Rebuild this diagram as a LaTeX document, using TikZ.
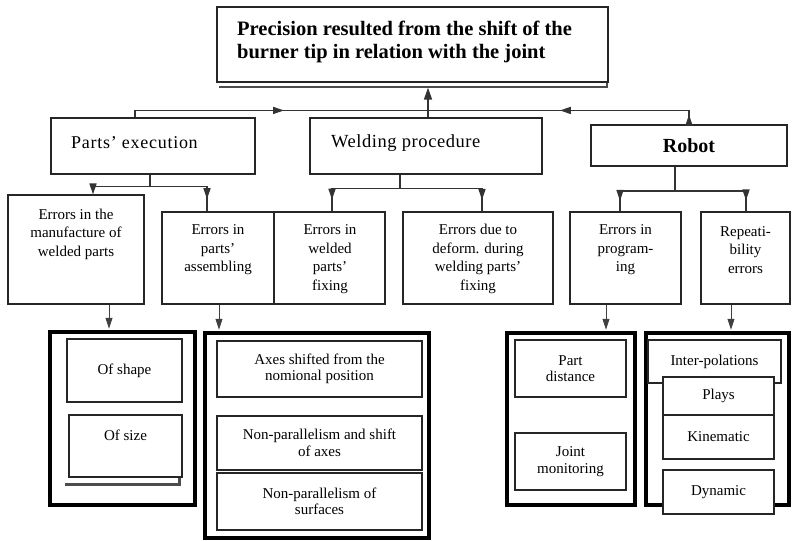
\documentclass[tikz,border=0pt]{standalone}
\usepackage{fontspec}
\setmainfont{Liberation Serif}
\usetikzlibrary{arrows.meta,decorations.markings}
\begin{document}
\begin{tikzpicture}[x=1pt,y=-1pt,
  box/.style={draw=black!85,line width=1.1pt,fill=white,inner sep=0pt,align=center,font=\fontsize{15}{16.5}\selectfont},
  frame/.style={draw=black,line width=3.5pt,inner sep=0pt},
  txt/.style={inner sep=0pt,align=center,font=\fontsize{15}{18.5}\selectfont},
  link/.style={draw=black!80,line width=1.6pt},
  thin link/.style={draw=black!75,line width=1pt},
  tip/.style={-{Triangle[length=11pt,width=7pt]}},
  midtip/.style={postaction={decorate,decoration={markings,mark=at position #1 with {\arrow{Triangle[length=11pt,width=7pt]}}}}},
  shadowline/.style={draw=black!70,line width=2.2pt}]
\useasboundingbox (0,0) rectangle (801,541);

% ---- top ----
\node[box,line width=1.3pt,minimum width=391pt,minimum height=75pt] (top) at (412.5,44.5) {};
\node[txt,align=left,anchor=west,font=\bfseries\fontsize{20.5}{23}\selectfont] (ttop) at (237,41.5)
  {Precision resulted from the shift of the\\burner tip in relation with the joint};
\draw[shadowline] ([xshift=3pt,yshift=-4pt]top.south west) -- ([xshift=-2pt,yshift=-4pt]top.south east) -- ([xshift=-2pt]top.south east);

% ---- level 1 ----
\node[box,minimum width=204pt,minimum height=56pt] (parts) at (153,146) {};
\node[txt,anchor=west,font=\fontsize{18}{20}\selectfont\addfontfeature{LetterSpace=4}] (tparts) at (71,143) {Parts' execution};
\node[box,minimum width=232pt,minimum height=56pt] (weld) at (426,146) {};
\node[txt,anchor=west,font=\fontsize{18.5}{20}\selectfont\addfontfeature{LetterSpace=3}] (tweld) at (331,143) {Welding procedure};
\node[box,line width=1.5pt,minimum width=196pt,minimum height=41pt,font=\bfseries\fontsize{20}{22}\selectfont] (robot) at (689,145.5) {Robot};

% ---- level 2 ----
\node[box,minimum width=136pt,minimum height=109pt] (manuf) at (76,249.5) {};
\node[txt] (tmanuf) at (76,234) {Errors in the\\manufacture of\\welded parts};
\node[box,minimum width=112pt,minimum height=92pt] (assem) at (218,258) {};
\node[txt] (tassem) at (218,250) {Errors in\\parts'\\assembling};
\node[box,minimum width=111pt,minimum height=92pt] (fixing) at (329.5,258) {};
\node[txt] (tfixing) at (330,259) {Errors in\\welded\\parts'\\fixing};
\node[box,minimum width=150pt,minimum height=92pt] (deform) at (478,258) {};
\node[txt] (tdeform) at (478,259) {Errors due to\\deform. during\\welding parts'\\fixing};
\node[box,minimum width=111pt,minimum height=92pt] (prog) at (625.5,258) {};
\node[txt] (tprog) at (625.5,250) {Errors in\\program-\\ing};
\node[box,minimum width=89pt,minimum height=92pt] (rep) at (745.5,258) {};
\node[txt] (trep) at (745.5,250) {Repeati-\\bility\\errors};

% ---- level 3 groups ----
\node[frame,minimum width=145pt,minimum height=173pt] (g1) at (122.5,418.5) {};
\node[box,minimum width=115pt,minimum height=63pt] (shape) at (124.5,370.5) {Of shape};
\node[box,minimum width=113pt,minimum height=62pt] (size) at (125.5,446) {};
\node[txt] (tsize) at (125.5,435) {Of size};
\draw[shadowline] ([xshift=-3pt,yshift=-7pt]size.south west) -- ([xshift=-3pt,yshift=-7pt]size.south east) -- ([xshift=-3pt]size.south east);

\node[frame,minimum width=224pt,minimum height=205pt] (g2) at (317,435.5) {};
\node[box,minimum width=205pt,minimum height=56pt] (axes) at (319.5,369) {Axes shifted from the\\nomional position};
\node[box,minimum width=205pt,minimum height=54pt] (nps) at (319.5,443) {Non-parallelism and shift\\of axes};
\node[box,minimum width=205pt,minimum height=57pt] (npsurf) at (319.5,501.5) {Non-parallelism of\\surfaces};

\node[frame,minimum width=128pt,minimum height=172pt] (g3) at (571,419) {};
\node[box,minimum width=111pt,minimum height=57pt] (pdist) at (570.5,368.5) {Part\\distance};
\node[box,minimum width=111pt,minimum height=57pt] (joint) at (570.5,461.5) {Joint\\monitoring};

\node[frame,minimum width=143pt,minimum height=172pt] (g4) at (717.5,419) {};
\node[box,minimum width=133pt,minimum height=43pt] (interp) at (714.5,361.5) {Inter-polations};
\node[box,minimum width=111pt,minimum height=38pt] (plays) at (718.5,396) {Plays};
\node[box,minimum width=111pt,minimum height=44pt] (kin) at (718.5,437) {Kinematic};
\node[box,minimum width=111pt,minimum height=44pt] (dyn) at (718.5,492) {Dynamic};

% ---- connectors up ----
\coordinate (jn) at ([xshift=2pt,yshift=7pt]weld.north);
\draw[link,-{Triangle[length=12pt,width=8pt]},shorten >=5pt] ([xshift=2pt]weld.north) -- ([xshift=2pt]weld.north |- top.south);
\draw[link,midtip=0.52] ([xshift=-18pt]parts.north) |- (jn);
\draw[link,midtip=0.52,midtip=0.035] (robot.north) |- (jn);

% ---- connectors down ----
\path ([xshift=-3pt]parts.south) ++(0,12) coordinate (pj);
\draw[link] ([xshift=-3pt]parts.south) -- (pj);
\draw[link,tip] (pj) -| ([xshift=17pt]manuf.north);
\draw[link,midtip=0.85] (pj) -| ([xshift=-11pt]assem.north);

\path ([xshift=-26pt]weld.south) ++(0,14) coordinate (wj);
\draw[link] ([xshift=-26pt]weld.south) -- (wj);
\draw[link,midtip=0.87] (wj) -| ([xshift=2.5pt]fixing.north);
\draw[link,midtip=0.89] (wj) -| ([xshift=4pt]deform.north);

\path ([xshift=-14pt]robot.south) ++(0,24) coordinate (rj);
\draw[link] ([xshift=-14pt]robot.south) -- (rj);
\draw[link,midtip=0.86] (rj) -| ([xshift=-5.5pt]prog.north);
\draw[link,midtip=0.88] (rj) -| ([xshift=0.5pt]rep.north);

\draw[thin link,tip,shorten >=1.5pt] ([xshift=33pt]manuf.south) -- ([xshift=33pt]manuf.south |- g1.north);
\draw[thin link,tip,shorten >=1.5pt] ([xshift=1pt]assem.south) -- ([xshift=1pt]assem.south |- g2.north);
\draw[thin link,tip,shorten >=1.5pt] ([xshift=-19.5pt]prog.south) -- ([xshift=-19.5pt]prog.south |- g3.north);
\draw[thin link,tip,shorten >=1.5pt] ([xshift=-14.5pt]rep.south) -- ([xshift=-14.5pt]rep.south |- g4.north);
\end{tikzpicture}
\end{document}
